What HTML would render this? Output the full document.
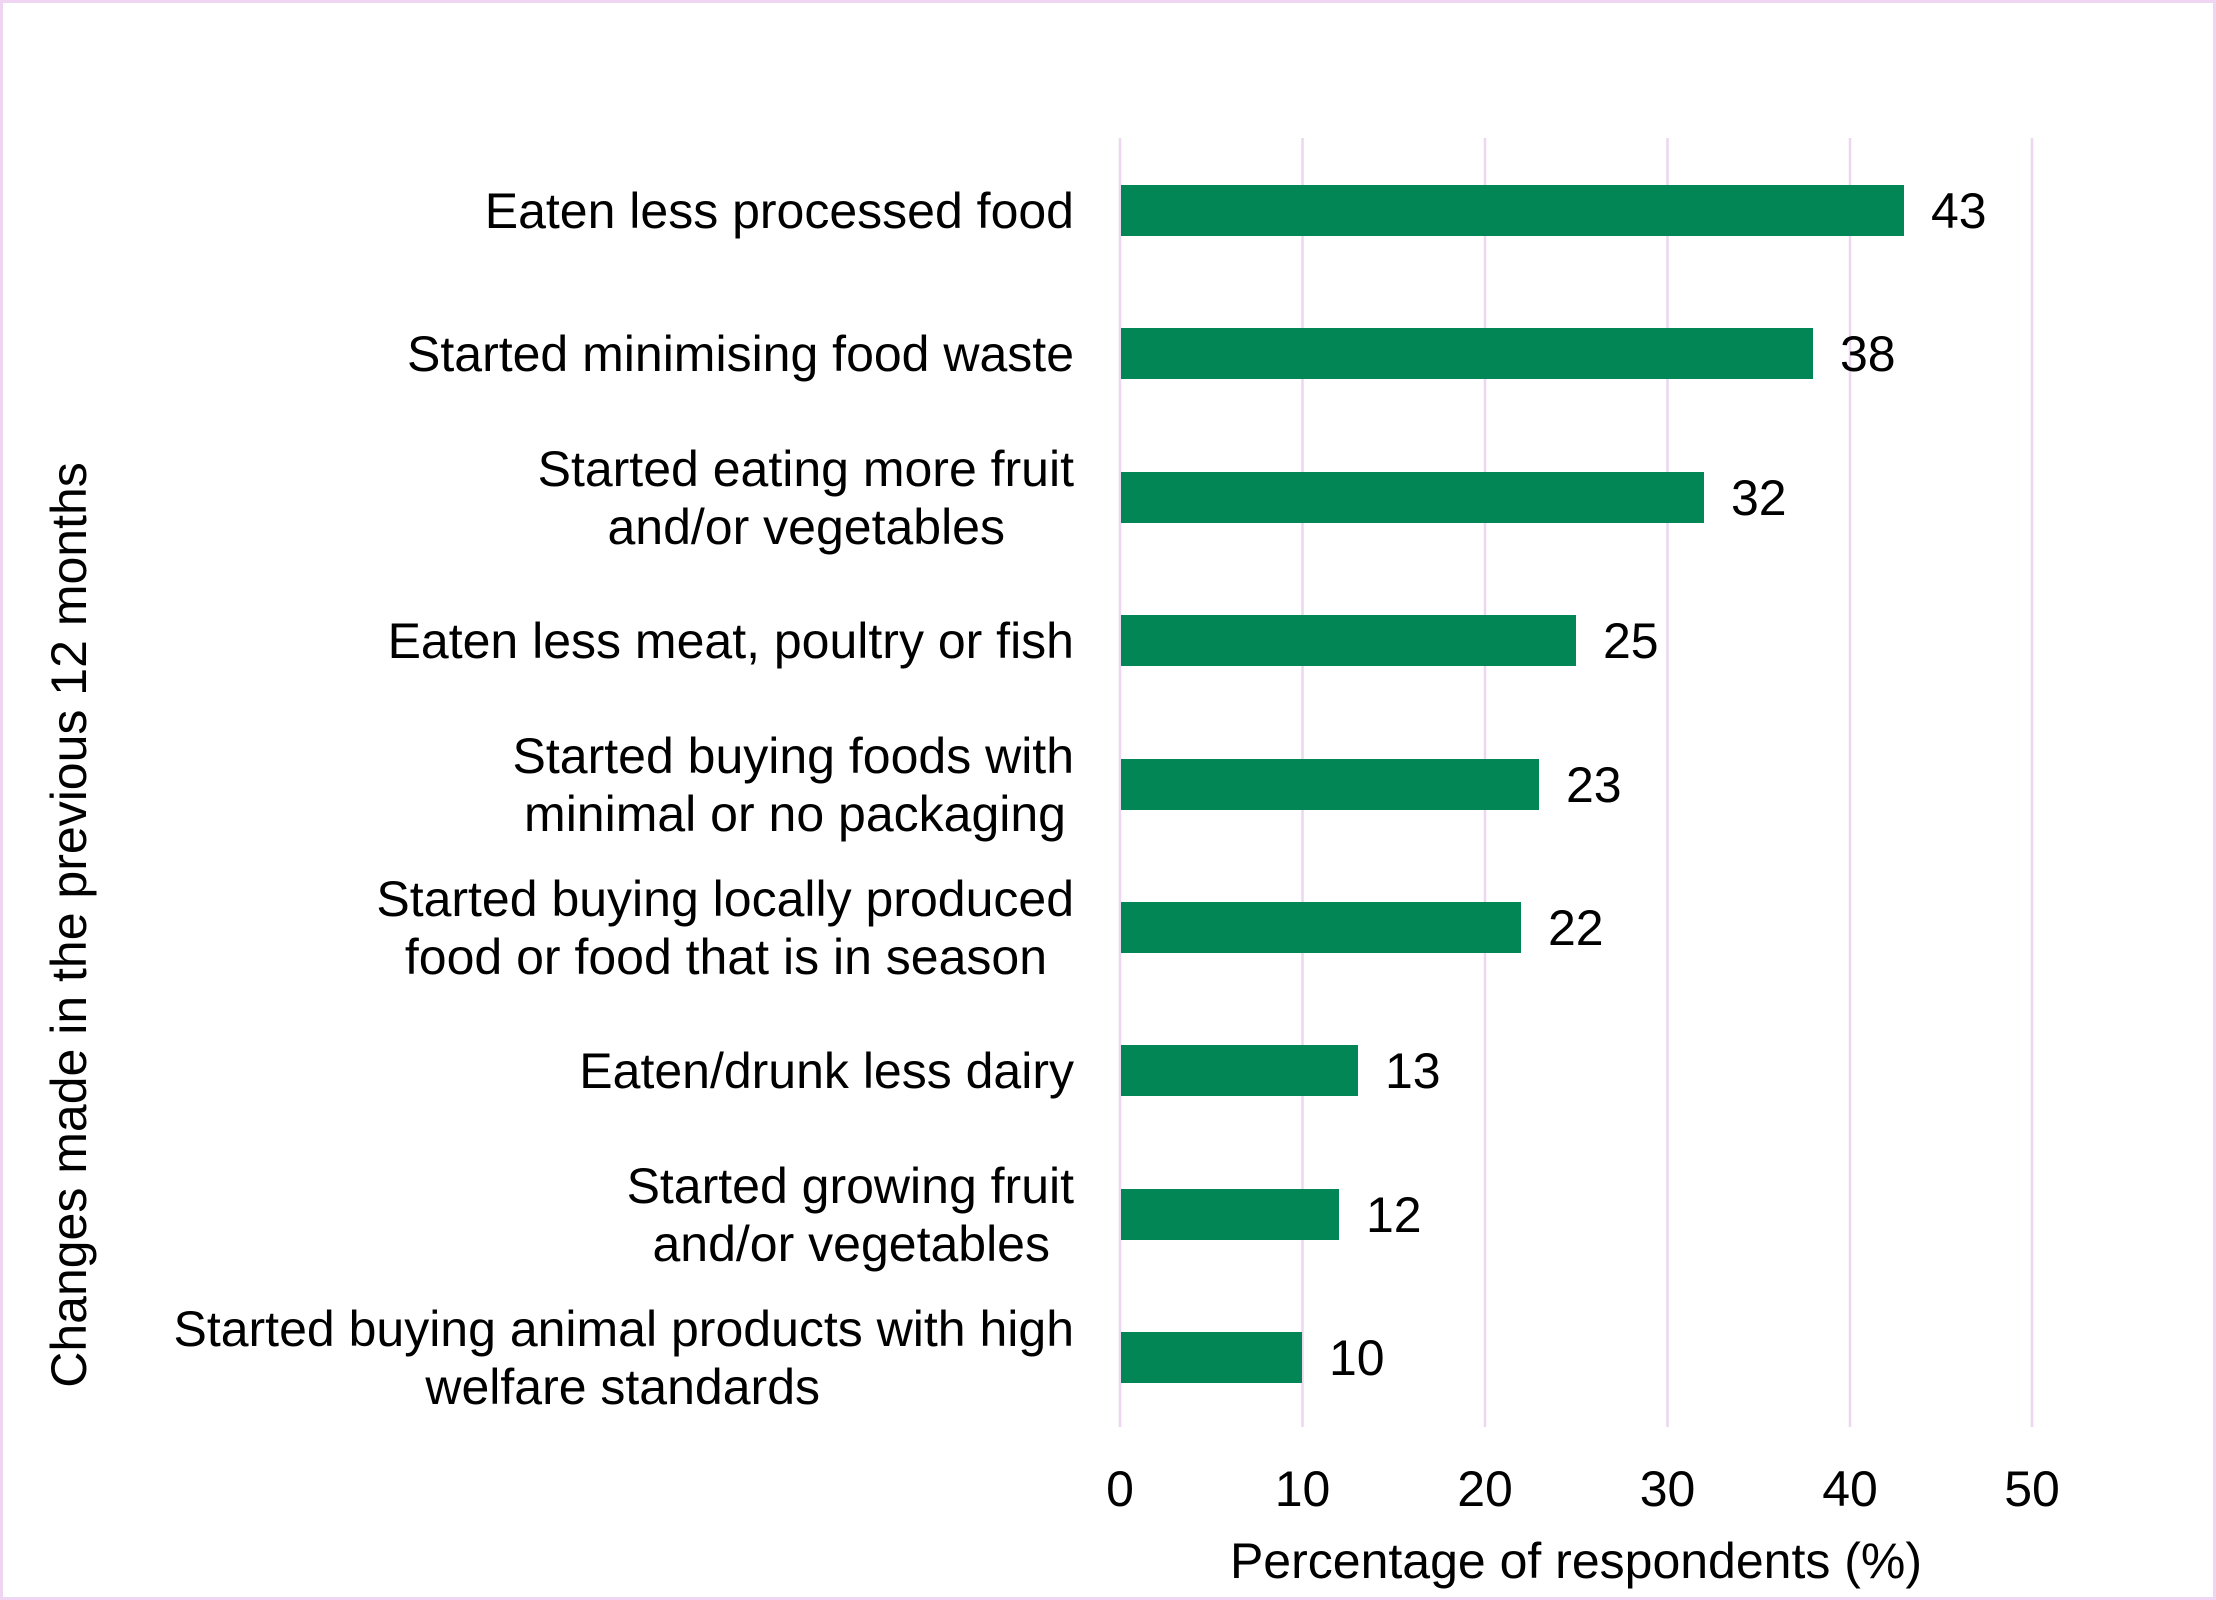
<!DOCTYPE html>
<html><head><meta charset="utf-8"><style>
html,body{margin:0;padding:0;background:#fff}
svg{display:block}
text{font-family:"Liberation Sans",Arial,sans-serif;font-size:50px;fill:#000}
</style></head><body>
<svg width="2216" height="1600" viewBox="0 0 2216 1600" xmlns="http://www.w3.org/2000/svg">
<rect x="1.5" y="1.5" width="2213" height="1597" fill="#fff" stroke="#efd5f2" stroke-width="3"/>
<g stroke="#ecd6f0" stroke-width="2.5">
<line x1="1120" y1="138" x2="1120" y2="1427"/>
<line x1="1302.5" y1="138" x2="1302.5" y2="1427"/>
<line x1="1485" y1="138" x2="1485" y2="1427"/>
<line x1="1667.5" y1="138" x2="1667.5" y2="1427"/>
<line x1="1850" y1="138" x2="1850" y2="1427"/>
<line x1="2032" y1="138" x2="2032" y2="1427"/>
</g>
<g fill="#028656">
<rect x="1121" y="185" width="783" height="51"/>
<rect x="1121" y="328" width="692" height="51"/>
<rect x="1121" y="472" width="583" height="51"/>
<rect x="1121" y="615" width="455" height="51"/>
<rect x="1121" y="759" width="418" height="51"/>
<rect x="1121" y="902" width="400" height="51"/>
<rect x="1121" y="1045" width="237" height="51"/>
<rect x="1121" y="1189" width="218" height="51"/>
<rect x="1121" y="1332" width="181" height="51"/>
</g>
<g>
<text x="1931" y="228">43</text>
<text x="1840" y="371">38</text>
<text x="1731" y="515">32</text>
<text x="1603" y="658">25</text>
<text x="1566" y="802">23</text>
<text x="1548" y="945">22</text>
<text x="1385" y="1088">13</text>
<text x="1366" y="1232">12</text>
<text x="1329" y="1375">10</text>
</g>
<g text-anchor="end">
<text x="1074" y="228">Eaten less processed food</text>
<text x="1074" y="371">Started minimising food waste</text>
<text x="1074" y="486">Started eating more fruit</text>
<text x="1005" y="544">and/or vegetables</text>
<text x="1074" y="658">Eaten less meat, poultry or fish</text>
<text x="1074" y="773">Started buying foods with</text>
<text x="1066" y="831">minimal or no packaging</text>
<text x="1074" y="916">Started buying locally produced</text>
<text x="1047" y="974">food or food that is in season</text>
<text x="1074" y="1088">Eaten/drunk less dairy</text>
<text x="1074" y="1203">Started growing fruit</text>
<text x="1050" y="1261">and/or vegetables</text>
<text x="1074" y="1346">Started buying animal products with high</text>
<text x="820" y="1404">welfare standards</text>
</g>
<g text-anchor="middle">
<text x="1120" y="1506">0</text>
<text x="1302.5" y="1506">10</text>
<text x="1485" y="1506">20</text>
<text x="1667.5" y="1506">30</text>
<text x="1850" y="1506">40</text>
<text x="2032" y="1506">50</text>
<text x="1576" y="1578">Percentage of respondents (%)</text>
<text transform="translate(86,925) rotate(-90)">Changes made in the previous 12 months</text>
</g>
</svg>
</body></html>
